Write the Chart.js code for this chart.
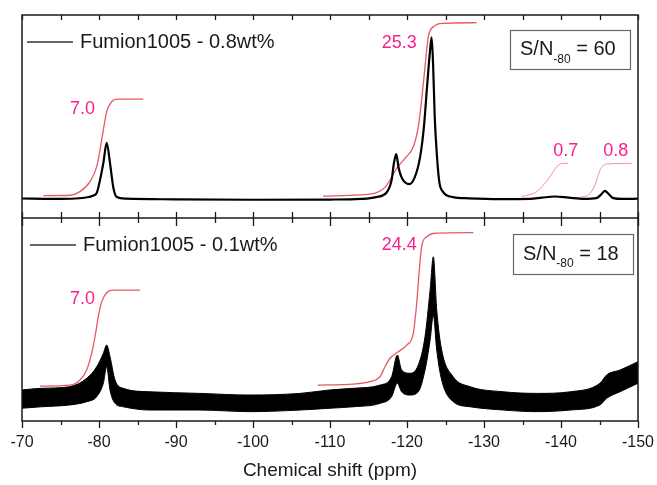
<!DOCTYPE html>
<html lang="en">
<head>
  <meta charset="UTF-8">
  <title>19F NMR - Fumion1005</title>
  <script src="https://cdn.jsdelivr.net/npm/chart.js"></script>
  <style>
    html, body { margin: 0; padding: 0; background: #fff; }
    #wrap { width: 657px; height: 485px; }
  </style>
</head>
<body>
  <div id="wrap"><canvas id="nmr" width="657" height="485"></canvas></div>

  <script>
    // x axis (ppm), major ticks labelled, minor ticks in between
    const majorTicks = [-70, -80, -90, -100, -110, -120, -130, -140, -150];
    const minorTicks = [-75, -85, -95, -105, -115, -125, -135, -145];

    // top panel: Fumion1005 - 0.8wt% (intensity in panel units 0..100)
    const topPpm = [-70, -74, -77, -78.5, -79.2, -79.7, -80.13, -80.56, -81.0, -81.43, -81.86, -82.3, -83.5,
      -90, -100, -110, -114, -116, -117.4, -118.0, -118.3, -118.6, -118.9, -119.3, -120.3, -121.0, -121.7,
      -122.2, -122.6, -123.0, -123.2, -123.4, -123.6, -123.9, -124.2, -124.7, -126, -128, -132, -136,
      -137.5, -139.2, -141, -143, -144.6, -145.2, -145.7, -146.2, -146.8, -148, -150];
    const topSignal = [9.6, 9.4, 9.6, 10.2, 11.0, 12.3, 18.7, 27, 37, 27, 15, 10.3, 9.5,
      9.2, 9.0, 9.1, 9.4, 10.3, 12.8, 18.7, 27, 31.5, 25, 20, 16.7, 20, 30,
      45, 64.5, 82.8, 89, 74.4, 49.8, 30, 17.7, 12.8, 10.3, 9.7, 9.3, 9.4,
      10.0, 10.6, 10.0, 9.4, 9.8, 11.5, 13.4, 11.8, 9.8, 9.4, 9.5];

    // top panel integrals
    const topInt1Ppm = [-72.77, -76.23, -77.53, -78.83, -79.7, -80.13, -80.56, -81.0, -81.65, -82.5, -85.75];
    const topInt1 = [11.0, 11.2, 13.0, 17.9, 25.3, 33.5, 43.3, 52.4, 57.3, 58.6, 58.6];
    const topInt2Ppm = [-109.1, -113.9, -116.06, -117.14, -117.79, -118.66, -119.74, -120.82, -121.47, -121.9,
      -122.34, -122.77, -123.42, -124.72, -129.05];
    const topInt2 = [10.8, 11.4, 12.5, 15.1, 18.7, 24.5, 29.4, 35.1, 45, 58.1, 74.5, 89.3, 94.2, 95.9, 96.2];
    const topInt3Ppm = [-134.9, -136.84, -138.57, -139.44, -140.3, -140.95];
    const topInt3 = [10.5, 13, 20.3, 25.3, 26.9, 26.9];
    const topInt4Ppm = [-142.47, -143.55, -144.42, -145.06, -145.93, -149.18];
    const topInt4 = [10.2, 11.3, 16.3, 23.6, 26.6, 26.9];

    // bottom panel: Fumion1005 - 0.1wt%, noisy trace read as upper / lower edge of the band
    const botPpm = [-70, -72.5, -76.2, -78.4, -79.7, -80.56, -81.0, -81.43, -82.08, -83.16, -86.6, -93.1,
      -99.6, -106.1, -110, -113, -116.5, -118.0, -118.74, -119.3, -120.4, -121.47, -122.34, -123.0,
      -123.42, -123.86, -124.5, -126.0, -128.2, -132.5, -136.84, -141.2, -145.06, -145.93, -147.66, -150];
    const botUpper = [15.3, 16.1, 16.9, 21.0, 26.7, 33.3, 37.4, 31.7, 20.2, 16.1, 14.4, 13.6,
      12.8, 13.6, 15.3, 16.1, 17.7, 21.8, 32.5, 25.1, 23.5, 27.6, 41.5, 64.5,
      80.9, 54.7, 35.0, 21.8, 16.9, 14.4, 13.6, 14.4, 18.6, 22.7, 25.1, 29.2];
    const botLower = [6.3, 7.0, 7.9, 9.5, 12.0, 18.6, 26.7, 15.3, 8.7, 7.0, 5.4, 5.4,
      4.6, 5.4, 6.3, 7.0, 8.7, 12.0, 18.6, 14.4, 12.8, 14.4, 25.1, 39.9,
      52.0, 35.0, 20.2, 9.5, 7.0, 5.4, 4.6, 5.4, 7.9, 11.2, 14.4, 18.6];

    // bottom panel integrals
    const botInt1Ppm = [-72.34, -76.23, -77.53, -78.4, -79.05, -79.48, -79.91, -80.35, -81.0, -81.86, -85.32];
    const botInt1 = [17.2, 17.7, 20.2, 25.1, 33.4, 41.5, 51.4, 58.8, 63.2, 64.5, 64.5];
    const botInt2Ppm = [-108.4, -113.03, -115.19, -116.49, -117.14, -117.79, -118.87, -119.96, -120.82,
      -121.26, -121.6, -121.9, -122.56, -123.86, -128.61];
    const botInt2 = [17.7, 18.2, 19.4, 21.8, 26.7, 30.9, 34.1, 37.4, 43.2, 58, 74.4, 85.9, 90.8, 92.5, 92.8];

    // integral values and where they sit (ppm, intensity)
    const topLabels = ['7.0', '25.3', '0.7', '0.8'];
    const topLabelPpm = [-77.86, -118.99, -140.62, -147.1];
    const topLabelInt = [53.9, 86.2, 33.2, 33.2];
    const botLabels = ['7.0', '24.4'];
    const botLabelPpm = [-77.86, -118.99];
    const botLabelInt = [60.1, 86.5];

    const legendTexts = ['Fumion1005 - 0.8wt%', 'Fumion1005 - 0.1wt%'];
    const snValues = ['60', '18'];

    const FONT = '"Liberation Sans", Arial, sans-serif';
    const INK = '#1a1a1a';
    const PINK = '#f7208c';

    function pts(xs, ys) {
      return xs.map((x, i) => ({ x: x, y: ys[i] }));
    }

    function integral(xs, ys, axis, color, width) {
      return {
        data: pts(xs, ys),
        yAxisID: axis,
        borderColor: color,
        borderWidth: width,
        pointRadius: 0,
        fill: false,
        cubicInterpolationMode: 'monotone'
      };
    }

    const nmrDecor = {
      id: 'nmrDecor',
      afterDatasetsDraw(chart) {
        const { ctx, chartArea: a, scales } = chart;
        const x = scales.x, yTop = scales.yTop, yBot = scales.yBot;
        const mid = yTop.getPixelForValue(0);

        ctx.save();
        ctx.strokeStyle = INK;
        ctx.lineWidth = 1.5;
        ctx.strokeRect(a.left, a.top, a.right - a.left, a.bottom - a.top);
        ctx.beginPath();
        ctx.moveTo(a.left, mid);
        ctx.lineTo(a.right, mid);
        ctx.stroke();

        // tick marks: inward at top and on the divider, outward at the bottom
        ctx.lineWidth = 1.3;
        const all = majorTicks.map(v => [v, true]).concat(minorTicks.map(v => [v, false]));
        all.forEach(([v, major]) => {
          const px = Math.round(x.getPixelForValue(v)) + 0.5;
          ctx.beginPath();
          ctx.moveTo(px, a.top); ctx.lineTo(px, a.top + 5);
          ctx.moveTo(px, mid - 6); ctx.lineTo(px, mid + (major ? 8 : 5));
          ctx.moveTo(px, a.bottom); ctx.lineTo(px, a.bottom + (major ? 7 : 4));
          ctx.stroke();
        });

        // legends
        const legendY = [a.top + 27, mid + 27];
        const legendX = [a.left + 5, a.left + 8];
        ctx.font = '20px ' + FONT;
        ctx.textBaseline = 'middle';
        ctx.textAlign = 'left';
        legendTexts.forEach((t, i) => {
          ctx.strokeStyle = '#333';
          ctx.lineWidth = 1.5;
          ctx.beginPath();
          ctx.moveTo(legendX[i], legendY[i]);
          ctx.lineTo(legendX[i] + 46, legendY[i]);
          ctx.stroke();
          ctx.fillStyle = INK;
          ctx.fillText(t, legendX[i] + 53, legendY[i]);
        });

        // integral values
        ctx.fillStyle = PINK;
        ctx.font = '18px ' + FONT;
        ctx.textAlign = 'center';
        topLabels.forEach((t, i) => {
          ctx.fillText(t, x.getPixelForValue(topLabelPpm[i]), yTop.getPixelForValue(topLabelInt[i]));
        });
        botLabels.forEach((t, i) => {
          ctx.fillText(t, x.getPixelForValue(botLabelPpm[i]), yBot.getPixelForValue(botLabelInt[i]));
        });

        // S/N boxes
        const boxes = [
          { l: a.right - 128, t: a.top + 15, w: 120, h: 39 },
          { l: a.right - 125, t: mid + 16, w: 120, h: 40 }
        ];
        boxes.forEach((b, i) => {
          ctx.fillStyle = '#fff';
          ctx.fillRect(b.l, b.t, b.w, b.h);
          ctx.strokeStyle = '#666';
          ctx.lineWidth = 1.2;
          ctx.strokeRect(b.l + 0.5, b.t + 0.5, b.w, b.h);
          const cy = b.t + b.h / 2;
          let tx = b.l + 10;
          ctx.fillStyle = INK;
          ctx.textAlign = 'left';
          ctx.textBaseline = 'middle';
          ctx.font = '20px ' + FONT;
          ctx.fillText('S/N', tx, cy);
          tx += ctx.measureText('S/N').width;
          ctx.font = '12px ' + FONT;
          ctx.fillText('-80', tx, cy + 10);
          tx += ctx.measureText('-80').width;
          ctx.font = '20px ' + FONT;
          ctx.fillText(' = ' + snValues[i], tx, cy);
        });
        ctx.restore();
      }
    };

    new Chart(document.getElementById('nmr'), {
      type: 'line',
      data: {
        datasets: [
          {
            data: pts(topPpm, topSignal),
            yAxisID: 'yTop',
            borderColor: '#000',
            borderWidth: 2.2,
            pointRadius: 0,
            fill: false,
            cubicInterpolationMode: 'monotone'
          },
          integral(topInt1Ppm, topInt1, 'yTop', 'rgba(228,70,85,0.9)', 1.3),
          integral(topInt2Ppm, topInt2, 'yTop', 'rgba(228,70,85,0.9)', 1.3),
          integral(topInt3Ppm, topInt3, 'yTop', 'rgba(240,120,130,0.8)', 1),
          integral(topInt4Ppm, topInt4, 'yTop', 'rgba(240,120,130,0.8)', 1),
          {
            data: pts(botPpm, botLower),
            yAxisID: 'yBot',
            borderColor: '#000',
            borderWidth: 1,
            pointRadius: 0,
            fill: false,
            cubicInterpolationMode: 'monotone'
          },
          {
            data: pts(botPpm, botUpper),
            yAxisID: 'yBot',
            borderColor: '#000',
            backgroundColor: '#000',
            borderWidth: 1,
            pointRadius: 0,
            fill: '-1',
            cubicInterpolationMode: 'monotone'
          },
          integral(botInt1Ppm, botInt1, 'yBot', 'rgba(228,70,85,0.9)', 1.3),
          integral(botInt2Ppm, botInt2, 'yBot', 'rgba(228,70,85,0.9)', 1.3)
        ]
      },
      options: {
        responsive: false,
        animation: false,
        layout: { padding: { left: 22, right: 19, top: 15, bottom: 0 } },
        plugins: { legend: { display: false }, tooltip: { enabled: false } },
        scales: {
          x: {
            type: 'linear',
            reverse: true,
            min: -150,
            max: -70,
            afterFit: s => { s.height = 64; s.paddingLeft = 0; s.paddingRight = 0; },
            afterBuildTicks: s => { s.ticks = majorTicks.map(v => ({ value: v })); },
            grid: { display: false, drawTicks: false },
            border: { display: false },
            ticks: {
              color: INK,
              font: { family: FONT, size: 16 },
              padding: 12,
              maxRotation: 0,
              autoSkip: false,
              callback: v => String(v)
            },
            title: {
              display: true,
              text: 'Chemical shift (ppm)',
              color: INK,
              font: { family: FONT, size: 19 },
              padding: { top: 0, bottom: 3 }
            }
          },
          yTop: { display: false, min: -100, max: 100 },
          yBot: { display: false, min: 0, max: 200 }
        }
      },
      plugins: [nmrDecor]
    });
  </script>
</body>
</html>
